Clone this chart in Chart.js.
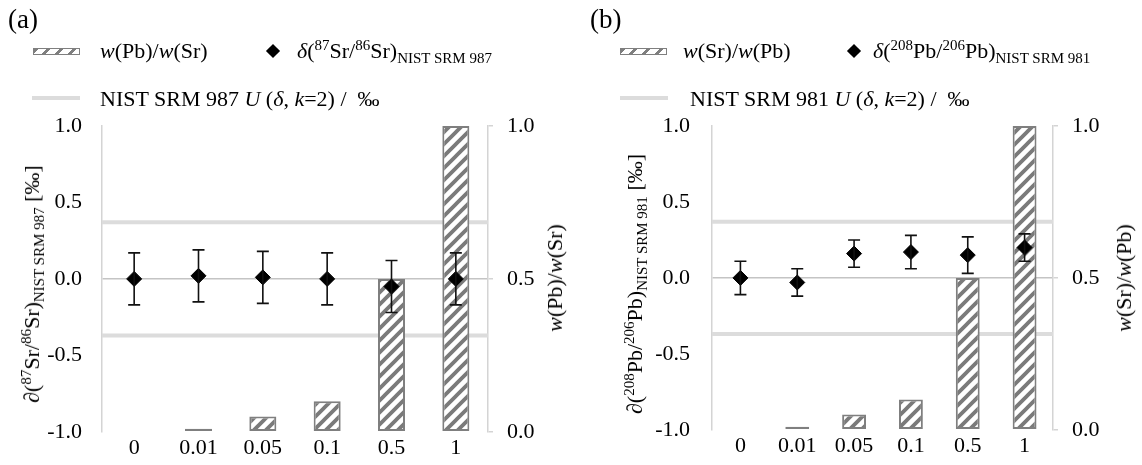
<!DOCTYPE html>
<html><head><meta charset="utf-8">
<script src="https://cdn.jsdelivr.net/npm/chart.js@4.4.1/dist/chart.umd.min.js"></script>
<style>
body{margin:0;background:#fff;width:1142px;height:465px;overflow:hidden;position:relative;font-family:'Liberation Serif','Times New Roman',serif;color:#000}
canvas{position:absolute;top:0}
.t{position:absolute;white-space:nowrap;font-size:22px;line-height:22px}
.rot{transform:translate(-50%,-50%) rotate(-90deg)}
sub,sup{font-size:15px;line-height:0}
.pl{position:absolute;font-size:27px;line-height:27px}
.sw{position:absolute;box-sizing:border-box;height:7px;width:47px;border:1px solid #7f7f7f;background:repeating-linear-gradient(135deg,#7f7f7f 0 3px,#fff 3px 9px)}
.dm{position:absolute;width:10px;height:10px;background:#000;transform:translate(-50%,-50%) rotate(45deg)}
.ln{position:absolute;height:4px;width:48px;background:#dcdcdc}
</style>
</head><body>
<canvas id="ca" width="571" height="465" style="left:0"></canvas>
<canvas id="cb" width="571" height="465" style="left:571px"></canvas>

<div class="pl" style="left:8px;top:6px">(a)</div>
<div class="sw" style="left:33px;top:48px"></div>
<div class="t" style="left:100px;top:40px"><i>w</i>(Pb)/<i>w</i>(Sr)</div>
<div class="dm" style="left:273px;top:51px"></div>
<div class="t" style="left:297px;top:40px"><i>δ</i>(<sup>87</sup>Sr/<sup>86</sup>Sr)<sub>NIST SRM 987</sub></div>
<div class="ln" style="left:32px;top:96px"></div>
<div class="t" style="left:100px;top:88px">NIST SRM 987 <i>U</i> (<i>δ</i>, <i>k</i>=2) /&nbsp; ‰</div>
<div class="t rot" style="left:32px;top:284px">∂(<sup>87</sup>Sr/<sup>86</sup>Sr)<sub>NIST SRM 987</sub> [‰]</div>
<div class="t rot" style="left:555px;top:278px"><i>w</i>(Pb)/<i>w</i>(Sr)</div>

<div class="pl" style="left:590px;top:6px">(b)</div>
<div class="sw" style="left:620px;top:48px"></div>
<div class="t" style="left:683px;top:40px"><i>w</i>(Sr)/<i>w</i>(Pb)</div>
<div class="dm" style="left:854px;top:51px"></div>
<div class="t" style="left:873px;top:40px"><i>δ</i>(<sup>208</sup>Pb/<sup>206</sup>Pb)<sub>NIST SRM 981</sub></div>
<div class="ln" style="left:620px;top:96px"></div>
<div class="t" style="left:690px;top:88px">NIST SRM 981 <i>U</i> (<i>δ</i>, <i>k</i>=2) /&nbsp; ‰</div>
<div class="t rot" style="left:635px;top:284px">∂(<sup>208</sup>Pb/<sup>206</sup>Pb)<sub>NIST SRM 981</sub> [‰]</div>
<div class="t rot" style="left:1124px;top:278px"><i>w</i>(Sr)/<i>w</i>(Pb)</div>

<script>
// ---- data ----
const categories = ['0', '0.01', '0.05', '0.1', '0.5', '1'];
const ratioA = [0, 0.01, 0.05, 0.1, 0.5, 1];          // w(Pb)/w(Sr)
const deltaA = [0.00, 0.02, 0.01, 0.00, -0.05, 0.00];  // δ(87Sr/86Sr) ‰
const errA   = [0.17, 0.17, 0.17, 0.17, 0.17, 0.17];
const uA = [0.37];                                     // NIST SRM 987 U
const ratioB = [0, 0.01, 0.05, 0.1, 0.5, 1];          // w(Sr)/w(Pb)
const deltaB = [0.00, -0.03, 0.16, 0.17, 0.15, 0.20]; // δ(208Pb/206Pb) ‰
const errB   = [0.11, 0.09, 0.09, 0.11, 0.12, 0.09];
const uB = [0.37];                                     // NIST SRM 981 U
const leftTicks = [-1, -0.5, 0, 0.5, 1];
const rightTicks = [0, 0.5, 1];

function makePattern(){
  const n=12;
  const c=document.createElement('canvas'); c.width=c.height=n;
  const x=c.getContext('2d'); x.fillStyle='#fff'; x.fillRect(0,0,n,n);
  x.strokeStyle='#7a7a7a'; x.lineWidth=3.8;
  x.beginPath();
  x.moveTo(-3,n+3); x.lineTo(n+3,-3);
  x.moveTo(-3,3); x.lineTo(3,-3);
  x.moveTo(n-3,n+3); x.lineTo(n+3,n-3);
  x.stroke();
  return x.createPattern(c,'repeat');
}

const refLines = {
  id:'refLines',
  beforeDatasetsDraw(chart, args, opts){
    const y=chart.scales.y, a=chart.chartArea, c=chart.ctx;
    c.save(); c.strokeStyle='#dcdcdc'; c.lineWidth=4;
    opts.levels.forEach(u=>[u,-u].forEach(v=>{
      const p=y.getPixelForValue(v);
      c.beginPath(); c.moveTo(a.left,p); c.lineTo(a.right,p); c.stroke();
    }));
    c.restore();
  }
};
const errorBars = {
  id:'errorBars',
  afterDatasetsDraw(chart, args, opts){
    const y=chart.scales.y, c=chart.ctx, meta=chart.getDatasetMeta(1);
    const vals=chart.data.datasets[1].data;
    c.save(); c.strokeStyle='#111'; c.lineWidth=1.6;
    meta.data.forEach((pt,i)=>{
      const t=y.getPixelForValue(vals[i]+opts.err[i]);
      const b=y.getPixelForValue(vals[i]-opts.err[i]);
      c.beginPath();
      c.moveTo(pt.x,t); c.lineTo(pt.x,b);
      c.moveTo(pt.x-6,t); c.lineTo(pt.x+6,t);
      c.moveTo(pt.x-6,b); c.lineTo(pt.x+6,b);
      c.stroke();
    });
    c.restore();
  }
};

const font = {family:"'Liberation Serif','Times New Roman',serif", size:22};

function build(id, ratio, delta, err, u, leftW, rightW, leftPad){
  new Chart(document.getElementById(id), {
    type:'bar',
    data:{
      labels:categories,
      datasets:[
        {type:'bar', data:ratio, yAxisID:'y2', backgroundColor:makePattern(),
         borderColor:'#7f7f7f', borderWidth:2, borderSkipped:false,
         barPercentage:0.42, categoryPercentage:1, order:2},
        {type:'line', data:delta, yAxisID:'y', showLine:false,
         pointStyle:'rectRot', pointRadius:7.5, pointBackgroundColor:'#000',
         pointBorderColor:'#000', pointBorderWidth:1, order:1}
      ]
    },
    options:{
      responsive:false, animation:false, devicePixelRatio:1,
      layout:{padding:{top:126,left:0,right:0,bottom:0}},
      plugins:{legend:{display:false}, tooltip:{enabled:false},
        refLines:{levels:u}, errorBars:{err:err}},
      scales:{
        x:{grid:{display:false, drawTicks:false}, border:{display:false},
           ticks:{font:font, color:'#000', padding:3, maxRotation:0},
           afterFit(s){s.height=33;}},
        y:{position:'left', min:-1, max:1,
           afterBuildTicks(s){s.ticks=leftTicks.map(v=>({value:v}));},
           ticks:{font:font, color:'#000', padding:leftPad, callback:v=>v.toFixed(1)},
           grid:{drawTicks:false, lineWidth:1.5,
                 color:c=>(c.tick && c.tick.value===0)?'#c4c4c4':'rgba(0,0,0,0)'},
           border:{display:true, color:'#d4d4d4', width:1.5},
           afterFit(s){s.width=leftW;}},
        y2:{position:'right', min:0, max:1,
            afterBuildTicks(s){s.ticks=rightTicks.map(v=>({value:v}));},
            ticks:{font:font, color:'#000', padding:14, callback:v=>v.toFixed(1)},
            grid:{drawOnChartArea:false, drawTicks:true, tickLength:5, color:'#d4d4d4', lineWidth:1.5},
            border:{display:true, color:'#d4d4d4', width:1.5},
            afterFit(s){s.width=rightW;}}
      }
    },
    plugins:[refLines, errorBars]
  });
}
build('ca', ratioA, deltaA, errA, uA, 102, 83, 20);
build('cb', ratioB, deltaB, errB, uB, 141, 89, 22);
</script>
</body></html>
